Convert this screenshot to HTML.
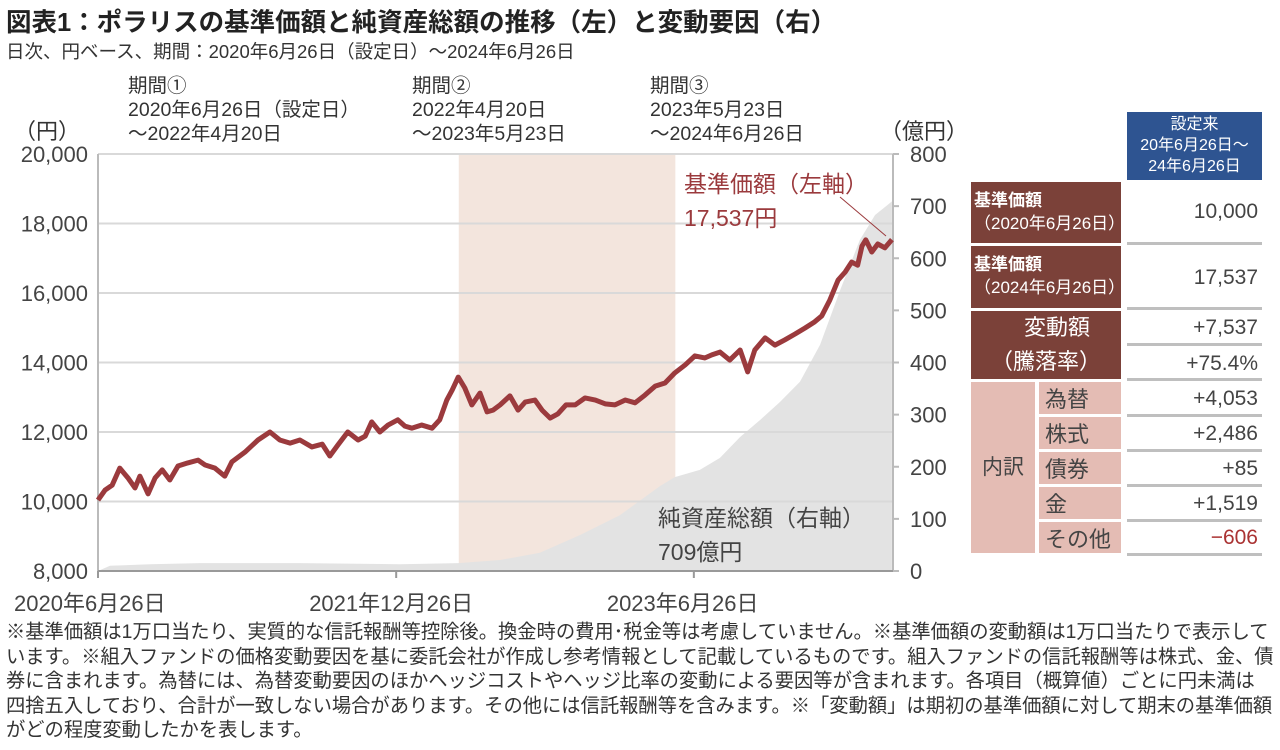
<!DOCTYPE html>
<html><head><meta charset="utf-8"><style>
body{margin:0;width:1280px;height:750px;background:#fff;font-family:"Liberation Sans","Noto Sans CJK JP",sans-serif;color:#333;overflow:hidden;position:relative}
.a{position:absolute;white-space:nowrap}
.tb div{position:absolute;box-sizing:border-box;white-space:nowrap}
.br{background:#7b4139;color:#fff}
.pk{background:#e4bcb4;color:#444}
.val{text-align:right;padding-right:4px;font-size:21px;color:#444;border-bottom:3px solid #bfbfbf}
</style></head><body>
<div class="a" style="left:6px;top:2px;font-size:25.5px;font-weight:bold;color:#222">図表1：ポラリスの基準価額と純資産総額の推移（左）と変動要因（右）</div>
<div class="a" style="left:6px;top:38px;font-size:18.5px">日次、円ベース、期間：2020年6月26日（設定日）～2024年6月26日</div>
<div class="a" style="left:128px;top:74px;font-size:19.5px;line-height:24px">期間①<br>2020年6月26日（設定日）<br>～2022年4月20日</div>
<div class="a" style="left:412px;top:74px;font-size:19.5px;line-height:24px">期間②<br>2022年4月20日<br>～2023年5月23日</div>
<div class="a" style="left:650px;top:74px;font-size:19.5px;line-height:24px">期間③<br>2023年5月23日<br>～2024年6月26日</div>
<div class="a" style="left:14px;top:114px;font-size:22px">（円）</div>
<div class="a" style="left:880px;top:114px;font-size:22px">（億円）</div>
<svg id="ch" class="a" style="left:0;top:0" width="960" height="620"></svg>
<div class="tb">
<div style="left:1127px;top:112px;width:135px;height:68px;background:#2e5491;color:#fff;text-align:center;font-size:16px;line-height:21px;padding-top:2px">設定来<br>20年6月26日～<br>24年6月26日</div>
<div class="br" style="left:971px;top:182px;width:150px;height:61px;font-size:17px;line-height:23px;padding:7px 0 0 3px"><b>基準価額</b><br>（2020年6月26日）</div>
<div class="br" style="left:971px;top:246px;width:150px;height:62px;font-size:17px;line-height:23px;padding:7px 0 0 3px"><b>基準価額</b><br>（2024年6月26日）</div>
<div class="br" style="left:971px;top:311px;width:150px;height:68px;font-size:22px;line-height:34px;text-align:center">　変動額<br>（騰落率）</div>
<div class="pk" style="left:971px;top:382px;width:64px;height:171px;font-size:21px;line-height:171px;text-align:center">内訳</div>
<div class="pk" style="left:1039px;top:382px;width:82px;height:32px;font-size:22px;padding-left:6px">為替</div>
<div class="pk" style="left:1039px;top:417px;width:82px;height:32px;font-size:22px;padding-left:6px">株式</div>
<div class="pk" style="left:1039px;top:452px;width:82px;height:32px;font-size:22px;padding-left:6px">債券</div>
<div class="pk" style="left:1039px;top:487px;width:82px;height:32px;font-size:22px;padding-left:6px">金</div>
<div class="pk" style="left:1039px;top:522px;width:82px;height:31px;font-size:22px;padding-left:6px">その他</div>
<div class="val" style="left:1127px;top:182px;width:135px;height:63px;line-height:60px">10,000</div>
<div class="val" style="left:1127px;top:246px;width:135px;height:64px;line-height:64px">17,537</div>
<div class="val" style="left:1127px;top:311px;width:135px;height:35px;line-height:34px">+7,537</div>
<div class="val" style="left:1127px;top:347px;width:135px;height:34px;line-height:34px">+75.4%</div>
<div class="val" style="left:1127px;top:382px;width:135px;height:35px;line-height:34px">+4,053</div>
<div class="val" style="left:1127px;top:417px;width:135px;height:35px;line-height:34px">+2,486</div>
<div class="val" style="left:1127px;top:452px;width:135px;height:35px;line-height:34px">+85</div>
<div class="val" style="left:1127px;top:487px;width:135px;height:35px;line-height:34px">+1,519</div>
<div class="val" style="left:1127px;top:522px;width:135px;height:34px;line-height:32px;color:#a33">−606</div>
</div>
<div class="a" style="left:6px;top:621px;width:1268px;white-space:normal;font-size:19.3px;line-height:24.5px;color:#333">※基準価額は1万口当たり、実質的な信託報酬等控除後。換金時の費用･税金等は考慮していません。※基準価額の変動額は1万口当たりで表示しています。※組入ファンドの価格変動要因を基に委託会社が作成し参考情報として記載しているものです。組入ファンドの信託報酬等は株式、金、債券に含まれます。為替には、為替変動要因のほかヘッジコストやヘッジ比率の変動による要因等が含まれます。各項目（概算値）ごとに円未満は四捨五入しており、合計が一致しない場合があります。その他には信託報酬等を含みます。※「変動額」は期初の基準価額に対して期末の基準価額がどの程度変動したかを表します。</div>
<script>
const priceDays=[0,13,26,40,55,68,77,92,105,118,132,147,165,184,197,215,233,246,270,294,316,334,353,371,393,412,426,441,459,478,491,503,518,533,551,564,577,595,614,628,641,651,662,674,687,702,715,726,739,757,772,785,803,816,831,845,860,877,895,914,932,950,969,987,1005,1024,1042,1060,1079,1097,1115,1128,1143,1161,1180,1194,1207,1226,1244,1262,1281,1299,1317,1330,1345,1360,1373,1385,1396,1404,1411,1422,1433,1446,1459];
const priceVals=[10040,10330,10470,10960,10680,10390,10730,10220,10680,10910,10620,11020,11110,11190,11050,10960,10730,11140,11420,11770,12000,11770,11680,11770,11570,11650,11310,11630,12000,11770,11880,12290,12000,12200,12350,12170,12110,12200,12110,12350,12920,13210,13580,13270,12780,13120,12580,12630,12780,13040,12630,12860,12920,12630,12400,12520,12780,12780,12980,12920,12810,12780,12920,12840,13060,13320,13410,13700,13930,14190,14130,14220,14300,14070,14360,13730,14360,14710,14500,14650,14820,14990,15170,15340,15800,16370,16600,16890,16800,17350,17530,17180,17410,17300,17537];
const assetDays=[0,22,96,187,371,555,662,739,812,886,959,1033,1060,1106,1143,1180,1217,1253,1290,1327,1364,1400,1428,1459];
const assetVals=[0,10,13,15,15,13,15,21,35,69,107,163,180,194,217,257,290,324,363,434,539,635,683,709];
const leftTicks=[8000,10000,12000,14000,16000,18000,20000];
const rightTicks=[0,100,200,300,400,500,600,700,800];
const xTickDays=[0,548,1095];
const xTickLabels=["2020年6月26日","2021年12月26日","2023年6月26日"];
const periods=[[663,1061]];
const TOT=1461,X0=98,X1=893,Y0=571,Y1=154;
const xs=d=>X0+d/TOT*(X1-X0);
const yl=v=>Y0-(v-8000)/12000*(Y0-Y1);
const yr=v=>Y0-v/800*(Y0-Y1);
const svg=document.getElementById('ch');const NS='http://www.w3.org/2000/svg';
function mk(t,a,p){const e=document.createElementNS(NS,t);for(const k in a)e.setAttribute(k,a[k]);(p||svg).appendChild(e);return e;}
for(const p of periods){const r=mk('rect',{x:xs(p[0]),y:Y1,width:xs(p[1])-xs(p[0]),height:Y0-Y1,fill:'#f3e5dd'});

}
let d='M'+xs(0)+','+Y0;assetDays.forEach((t,i)=>{d+=' L'+xs(t)+','+yr(assetVals[i]);});d+=' L'+xs(assetDays[assetDays.length-1])+','+Y0+' Z';
const ar=mk('path',{d:d,fill:'#e3e3e3'});


for(const v of leftTicks){const l=mk('line',{x1:X0,x2:X1,y1:yl(v),y2:yl(v),stroke:'#d9d9d9','stroke-width':2});


const t=mk('text',{x:88,y:yl(v)+8,'text-anchor':'end','font-size':22,fill:'#444'});t.textContent=v.toLocaleString('en-US');

}
for(const v of rightTicks){mk('line',{x1:X1,x2:X1+6,y1:yr(v),y2:yr(v),stroke:'#bbb','stroke-width':2});
const t=mk('text',{x:910,y:yr(v)+8,'font-size':22,fill:'#444'});t.textContent=v;

}
mk('line',{x1:X0,x2:X0,y1:Y1,y2:Y0,stroke:'#bbb','stroke-width':2});
mk('line',{x1:X1,x2:X1,y1:Y1,y2:Y0,stroke:'#bbb','stroke-width':2});
mk('line',{x1:X0,x2:X1,y1:Y0,y2:Y0,stroke:'#999','stroke-width':2});
xTickDays.forEach((t,i)=>{mk('line',{x1:xs(t),x2:xs(t),y1:Y0,y2:Y0+7,stroke:'#999','stroke-width':2});
const tx=mk('text',{x:i==0?14:xs(t)-87,y:611,'font-size':22,fill:'#444'});tx.textContent=xTickLabels[i];

});
let pd='';priceDays.forEach((t,i)=>{pd+=(i?' L':'M')+xs(t)+','+yl(priceVals[i]);});
const pl=mk('path',{d:pd,fill:'none',stroke:'#9b3a3d','stroke-width':5,'stroke-linejoin':'round'});


mk('line',{x1:840,y1:197,x2:886,y2:236,stroke:'#9b3a3d','stroke-width':1});
const l1=mk('text',{x:684,y:192,'font-size':23,fill:'#9b3a3d'});l1.textContent='基準価額（左軸）';


const l2=mk('text',{x:684,y:226,'font-size':23,fill:'#9b3a3d'});l2.textContent='17,537円';
const l3=mk('text',{x:658,y:526,'font-size':23,fill:'#444'});l3.textContent='純資産総額（右軸）';


const l4=mk('text',{x:658,y:560,'font-size':23,fill:'#444'});l4.textContent='709億円';
</script>
</body></html>
